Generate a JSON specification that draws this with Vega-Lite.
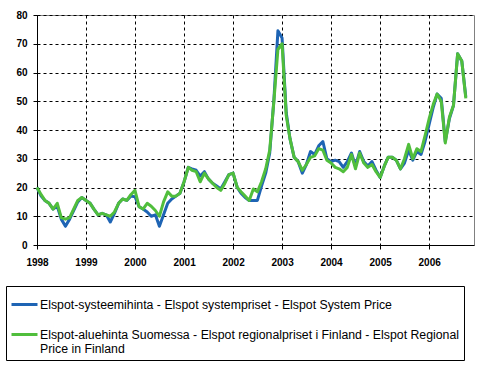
{
  "$schema": "https://vega.github.io/schema/vega-lite/v6.json",
  "width": 437,
  "height": 230,
  "autosize": {"type": "none"},
  "padding": {"left": 37, "top": 15, "right": 19, "bottom": 121},
  "background": "white",
  "config": {
    "font": "Liberation Sans",
    "view": {"stroke": "#808080", "strokeWidth": 1},
    "axis": {
      "labelFont": "Liberation Sans",
      "labelFontSize": 10,
      "labelFontWeight": "bold",
      "labelColor": "black",
      "domainColor": "black",
      "tickColor": "black",
      "tickSize": 4,
      "gridColor": "black",
      "gridDash": [3, 3],
      "gridWidth": 1,
      "gridOpacity": 1
    }
  },
  "data": {
    "values": [
      {"month": "1998/01/01", "series": "s1", "price": 20},
      {"month": "1998/02/01", "series": "s1", "price": 17},
      {"month": "1998/03/01", "series": "s1", "price": 15.5},
      {"month": "1998/04/01", "series": "s1", "price": 14.5},
      {"month": "1998/05/01", "series": "s1", "price": 12.5},
      {"month": "1998/06/01", "series": "s1", "price": 13.5},
      {"month": "1998/07/01", "series": "s1", "price": 9},
      {"month": "1998/08/01", "series": "s1", "price": 6.5},
      {"month": "1998/09/01", "series": "s1", "price": 9},
      {"month": "1998/10/01", "series": "s1", "price": 12},
      {"month": "1998/11/01", "series": "s1", "price": 15},
      {"month": "1998/12/01", "series": "s1", "price": 16.5},
      {"month": "1999/01/01", "series": "s1", "price": 15.5},
      {"month": "1999/02/01", "series": "s1", "price": 14.5},
      {"month": "1999/03/01", "series": "s1", "price": 12.5},
      {"month": "1999/04/01", "series": "s1", "price": 10.5},
      {"month": "1999/05/01", "series": "s1", "price": 11},
      {"month": "1999/06/01", "series": "s1", "price": 10.5},
      {"month": "1999/07/01", "series": "s1", "price": 8},
      {"month": "1999/08/01", "series": "s1", "price": 11},
      {"month": "1999/09/01", "series": "s1", "price": 14.5},
      {"month": "1999/10/01", "series": "s1", "price": 16},
      {"month": "1999/11/01", "series": "s1", "price": 15.5},
      {"month": "1999/12/01", "series": "s1", "price": 17},
      {"month": "2000/01/01", "series": "s1", "price": 16.8},
      {"month": "2000/02/01", "series": "s1", "price": 13.3},
      {"month": "2000/03/01", "series": "s1", "price": 12.5},
      {"month": "2000/04/01", "series": "s1", "price": 11.5},
      {"month": "2000/05/01", "series": "s1", "price": 10},
      {"month": "2000/06/01", "series": "s1", "price": 10.5},
      {"month": "2000/07/01", "series": "s1", "price": 6.5},
      {"month": "2000/08/01", "series": "s1", "price": 10.5},
      {"month": "2000/09/01", "series": "s1", "price": 14.5},
      {"month": "2000/10/01", "series": "s1", "price": 16},
      {"month": "2000/11/01", "series": "s1", "price": 17},
      {"month": "2000/12/01", "series": "s1", "price": 18},
      {"month": "2001/01/01", "series": "s1", "price": 22},
      {"month": "2001/02/01", "series": "s1", "price": 27},
      {"month": "2001/03/01", "series": "s1", "price": 26.5},
      {"month": "2001/04/01", "series": "s1", "price": 26},
      {"month": "2001/05/01", "series": "s1", "price": 24},
      {"month": "2001/06/01", "series": "s1", "price": 25.5},
      {"month": "2001/07/01", "series": "s1", "price": 23},
      {"month": "2001/08/01", "series": "s1", "price": 21.5},
      {"month": "2001/09/01", "series": "s1", "price": 20.5},
      {"month": "2001/10/01", "series": "s1", "price": 19.5},
      {"month": "2001/11/01", "series": "s1", "price": 22},
      {"month": "2001/12/01", "series": "s1", "price": 24.5},
      {"month": "2002/01/01", "series": "s1", "price": 25},
      {"month": "2002/02/01", "series": "s1", "price": 20},
      {"month": "2002/03/01", "series": "s1", "price": 18},
      {"month": "2002/04/01", "series": "s1", "price": 16.5},
      {"month": "2002/05/01", "series": "s1", "price": 15.5},
      {"month": "2002/06/01", "series": "s1", "price": 15.5},
      {"month": "2002/07/01", "series": "s1", "price": 15.5},
      {"month": "2002/08/01", "series": "s1", "price": 20.5},
      {"month": "2002/09/01", "series": "s1", "price": 25},
      {"month": "2002/10/01", "series": "s1", "price": 32},
      {"month": "2002/11/01", "series": "s1", "price": 50.5},
      {"month": "2002/12/01", "series": "s1", "price": 74.5},
      {"month": "2003/01/01", "series": "s1", "price": 72},
      {"month": "2003/02/01", "series": "s1", "price": 46},
      {"month": "2003/03/01", "series": "s1", "price": 37},
      {"month": "2003/04/01", "series": "s1", "price": 30.5},
      {"month": "2003/05/01", "series": "s1", "price": 29},
      {"month": "2003/06/01", "series": "s1", "price": 25},
      {"month": "2003/07/01", "series": "s1", "price": 28},
      {"month": "2003/08/01", "series": "s1", "price": 32.5},
      {"month": "2003/09/01", "series": "s1", "price": 31.5},
      {"month": "2003/10/01", "series": "s1", "price": 34.5},
      {"month": "2003/11/01", "series": "s1", "price": 36},
      {"month": "2003/12/01", "series": "s1", "price": 30},
      {"month": "2004/01/01", "series": "s1", "price": 29},
      {"month": "2004/02/01", "series": "s1", "price": 29.5},
      {"month": "2004/03/01", "series": "s1", "price": 29},
      {"month": "2004/04/01", "series": "s1", "price": 27},
      {"month": "2004/05/01", "series": "s1", "price": 29},
      {"month": "2004/06/01", "series": "s1", "price": 32},
      {"month": "2004/07/01", "series": "s1", "price": 27.5},
      {"month": "2004/08/01", "series": "s1", "price": 32.5},
      {"month": "2004/09/01", "series": "s1", "price": 29},
      {"month": "2004/10/01", "series": "s1", "price": 27.5},
      {"month": "2004/11/01", "series": "s1", "price": 29},
      {"month": "2004/12/01", "series": "s1", "price": 26},
      {"month": "2005/01/01", "series": "s1", "price": 23.5},
      {"month": "2005/02/01", "series": "s1", "price": 27.5},
      {"month": "2005/03/01", "series": "s1", "price": 30.5},
      {"month": "2005/04/01", "series": "s1", "price": 30.5},
      {"month": "2005/05/01", "series": "s1", "price": 29.5},
      {"month": "2005/06/01", "series": "s1", "price": 26.5},
      {"month": "2005/07/01", "series": "s1", "price": 28.5},
      {"month": "2005/08/01", "series": "s1", "price": 33},
      {"month": "2005/09/01", "series": "s1", "price": 29.5},
      {"month": "2005/10/01", "series": "s1", "price": 32.5},
      {"month": "2005/11/01", "series": "s1", "price": 31.5},
      {"month": "2005/12/01", "series": "s1", "price": 36},
      {"month": "2006/01/01", "series": "s1", "price": 42},
      {"month": "2006/02/01", "series": "s1", "price": 48},
      {"month": "2006/03/01", "series": "s1", "price": 52.5},
      {"month": "2006/04/01", "series": "s1", "price": 51},
      {"month": "2006/05/01", "series": "s1", "price": 36},
      {"month": "2006/06/01", "series": "s1", "price": 44},
      {"month": "2006/07/01", "series": "s1", "price": 48.5},
      {"month": "2006/08/01", "series": "s1", "price": 66.5},
      {"month": "2006/09/01", "series": "s1", "price": 64},
      {"month": "2006/10/01", "series": "s1", "price": 51.5},
      {"month": "1998/01/01", "series": "s2", "price": 20},
      {"month": "1998/02/01", "series": "s2", "price": 17.5},
      {"month": "1998/03/01", "series": "s2", "price": 15.5},
      {"month": "1998/04/01", "series": "s2", "price": 14.5},
      {"month": "1998/05/01", "series": "s2", "price": 12.5},
      {"month": "1998/06/01", "series": "s2", "price": 14.5},
      {"month": "1998/07/01", "series": "s2", "price": 9.5},
      {"month": "1998/08/01", "series": "s2", "price": 9},
      {"month": "1998/09/01", "series": "s2", "price": 9.5},
      {"month": "1998/10/01", "series": "s2", "price": 12.5},
      {"month": "1998/11/01", "series": "s2", "price": 15.5},
      {"month": "1998/12/01", "series": "s2", "price": 16.5},
      {"month": "1999/01/01", "series": "s2", "price": 15.5},
      {"month": "1999/02/01", "series": "s2", "price": 14.5},
      {"month": "1999/03/01", "series": "s2", "price": 12.5},
      {"month": "1999/04/01", "series": "s2", "price": 10.5},
      {"month": "1999/05/01", "series": "s2", "price": 11},
      {"month": "1999/06/01", "series": "s2", "price": 10.5},
      {"month": "1999/07/01", "series": "s2", "price": 10},
      {"month": "1999/08/01", "series": "s2", "price": 11.5},
      {"month": "1999/09/01", "series": "s2", "price": 14.5},
      {"month": "1999/10/01", "series": "s2", "price": 16},
      {"month": "1999/11/01", "series": "s2", "price": 15.5},
      {"month": "1999/12/01", "series": "s2", "price": 17.5},
      {"month": "2000/01/01", "series": "s2", "price": 19},
      {"month": "2000/02/01", "series": "s2", "price": 13.3},
      {"month": "2000/03/01", "series": "s2", "price": 12.5},
      {"month": "2000/04/01", "series": "s2", "price": 14.5},
      {"month": "2000/05/01", "series": "s2", "price": 13.5},
      {"month": "2000/06/01", "series": "s2", "price": 12},
      {"month": "2000/07/01", "series": "s2", "price": 10},
      {"month": "2000/08/01", "series": "s2", "price": 15},
      {"month": "2000/09/01", "series": "s2", "price": 18.5},
      {"month": "2000/10/01", "series": "s2", "price": 17},
      {"month": "2000/11/01", "series": "s2", "price": 17},
      {"month": "2000/12/01", "series": "s2", "price": 18},
      {"month": "2001/01/01", "series": "s2", "price": 22},
      {"month": "2001/02/01", "series": "s2", "price": 27},
      {"month": "2001/03/01", "series": "s2", "price": 26},
      {"month": "2001/04/01", "series": "s2", "price": 25.5},
      {"month": "2001/05/01", "series": "s2", "price": 22},
      {"month": "2001/06/01", "series": "s2", "price": 25},
      {"month": "2001/07/01", "series": "s2", "price": 23},
      {"month": "2001/08/01", "series": "s2", "price": 21.5},
      {"month": "2001/09/01", "series": "s2", "price": 20},
      {"month": "2001/10/01", "series": "s2", "price": 19},
      {"month": "2001/11/01", "series": "s2", "price": 21.5},
      {"month": "2001/12/01", "series": "s2", "price": 24.5},
      {"month": "2002/01/01", "series": "s2", "price": 25},
      {"month": "2002/02/01", "series": "s2", "price": 20},
      {"month": "2002/03/01", "series": "s2", "price": 18.5},
      {"month": "2002/04/01", "series": "s2", "price": 17},
      {"month": "2002/05/01", "series": "s2", "price": 15.5},
      {"month": "2002/06/01", "series": "s2", "price": 19.5},
      {"month": "2002/07/01", "series": "s2", "price": 18.5},
      {"month": "2002/08/01", "series": "s2", "price": 22},
      {"month": "2002/09/01", "series": "s2", "price": 26.5},
      {"month": "2002/10/01", "series": "s2", "price": 33},
      {"month": "2002/11/01", "series": "s2", "price": 50},
      {"month": "2002/12/01", "series": "s2", "price": 68},
      {"month": "2003/01/01", "series": "s2", "price": 70},
      {"month": "2003/02/01", "series": "s2", "price": 45},
      {"month": "2003/03/01", "series": "s2", "price": 37},
      {"month": "2003/04/01", "series": "s2", "price": 30.5},
      {"month": "2003/05/01", "series": "s2", "price": 29},
      {"month": "2003/06/01", "series": "s2", "price": 26},
      {"month": "2003/07/01", "series": "s2", "price": 28},
      {"month": "2003/08/01", "series": "s2", "price": 30.5},
      {"month": "2003/09/01", "series": "s2", "price": 31},
      {"month": "2003/10/01", "series": "s2", "price": 33.5},
      {"month": "2003/11/01", "series": "s2", "price": 33},
      {"month": "2003/12/01", "series": "s2", "price": 29.5},
      {"month": "2004/01/01", "series": "s2", "price": 28.5},
      {"month": "2004/02/01", "series": "s2", "price": 27},
      {"month": "2004/03/01", "series": "s2", "price": 26.5},
      {"month": "2004/04/01", "series": "s2", "price": 25.5},
      {"month": "2004/05/01", "series": "s2", "price": 27},
      {"month": "2004/06/01", "series": "s2", "price": 31.5},
      {"month": "2004/07/01", "series": "s2", "price": 26.5},
      {"month": "2004/08/01", "series": "s2", "price": 32},
      {"month": "2004/09/01", "series": "s2", "price": 28.5},
      {"month": "2004/10/01", "series": "s2", "price": 27},
      {"month": "2004/11/01", "series": "s2", "price": 28},
      {"month": "2004/12/01", "series": "s2", "price": 25.5},
      {"month": "2005/01/01", "series": "s2", "price": 23.5},
      {"month": "2005/02/01", "series": "s2", "price": 27.5},
      {"month": "2005/03/01", "series": "s2", "price": 30.5},
      {"month": "2005/04/01", "series": "s2", "price": 30.5},
      {"month": "2005/05/01", "series": "s2", "price": 29.5},
      {"month": "2005/06/01", "series": "s2", "price": 26.5},
      {"month": "2005/07/01", "series": "s2", "price": 30},
      {"month": "2005/08/01", "series": "s2", "price": 35},
      {"month": "2005/09/01", "series": "s2", "price": 30},
      {"month": "2005/10/01", "series": "s2", "price": 33.5},
      {"month": "2005/11/01", "series": "s2", "price": 32.5},
      {"month": "2005/12/01", "series": "s2", "price": 38},
      {"month": "2006/01/01", "series": "s2", "price": 44},
      {"month": "2006/02/01", "series": "s2", "price": 49},
      {"month": "2006/03/01", "series": "s2", "price": 52.5},
      {"month": "2006/04/01", "series": "s2", "price": 50},
      {"month": "2006/05/01", "series": "s2", "price": 35.5},
      {"month": "2006/06/01", "series": "s2", "price": 44.5},
      {"month": "2006/07/01", "series": "s2", "price": 48.5},
      {"month": "2006/08/01", "series": "s2", "price": 66.5},
      {"month": "2006/09/01", "series": "s2", "price": 64},
      {"month": "2006/10/01", "series": "s2", "price": 51}
    ]
  },
  "mark": {"type": "line", "strokeWidth": 3, "strokeJoin": "round"},
  "encoding": {
    "x": {
      "field": "month",
      "type": "temporal",
      "scale": {"domain": [{"year": 1998, "month": 1, "date": 1}, {"year": 2006, "month": 12, "date": 1}]},
      "axis": {
        "title": null,
        "format": "%Y",
        "tickCount": {"interval": "year", "step": 1},
        "labelPadding": 8,
        "labelFlush": false,
        "labelOverlap": false
      }
    },
    "y": {
      "field": "price",
      "type": "quantitative",
      "scale": {"domain": [0, 80], "nice": false},
      "axis": {"title": null, "values": [0, 10, 20, 30, 40, 50, 60, 70, 80], "labelPadding": 6}
    },
    "color": {
      "field": "series",
      "type": "nominal",
      "scale": {"domain": ["s1", "s2"], "range": ["#1E64B4", "#50BE3C"]},
      "legend": {
        "title": null,
        "orient": "none",
        "legendX": -31,
        "legendY": 271,
        "direction": "vertical",
        "strokeColor": "black",
        "fillColor": "white",
        "padding": 4,
        "symbolType": "stroke",
        "symbolSize": 676,
        "symbolStrokeWidth": 3,
        "labelFont": "Liberation Sans",
        "labelFontSize": 12.3,
        "labelColor": "black",
        "labelLimit": 600,
        "labelOffset": 1,
        "rowPadding": 9,
        "labelExpr": "datum.value == 's1' ? 'Elspot-systeemihinta - Elspot systempriset - Elspot System Price' : ['Elspot-aluehinta Suomessa - Elspot regionalpriset i Finland - Elspot Regional', 'Price in Finland']"
      }
    }
  }
}
